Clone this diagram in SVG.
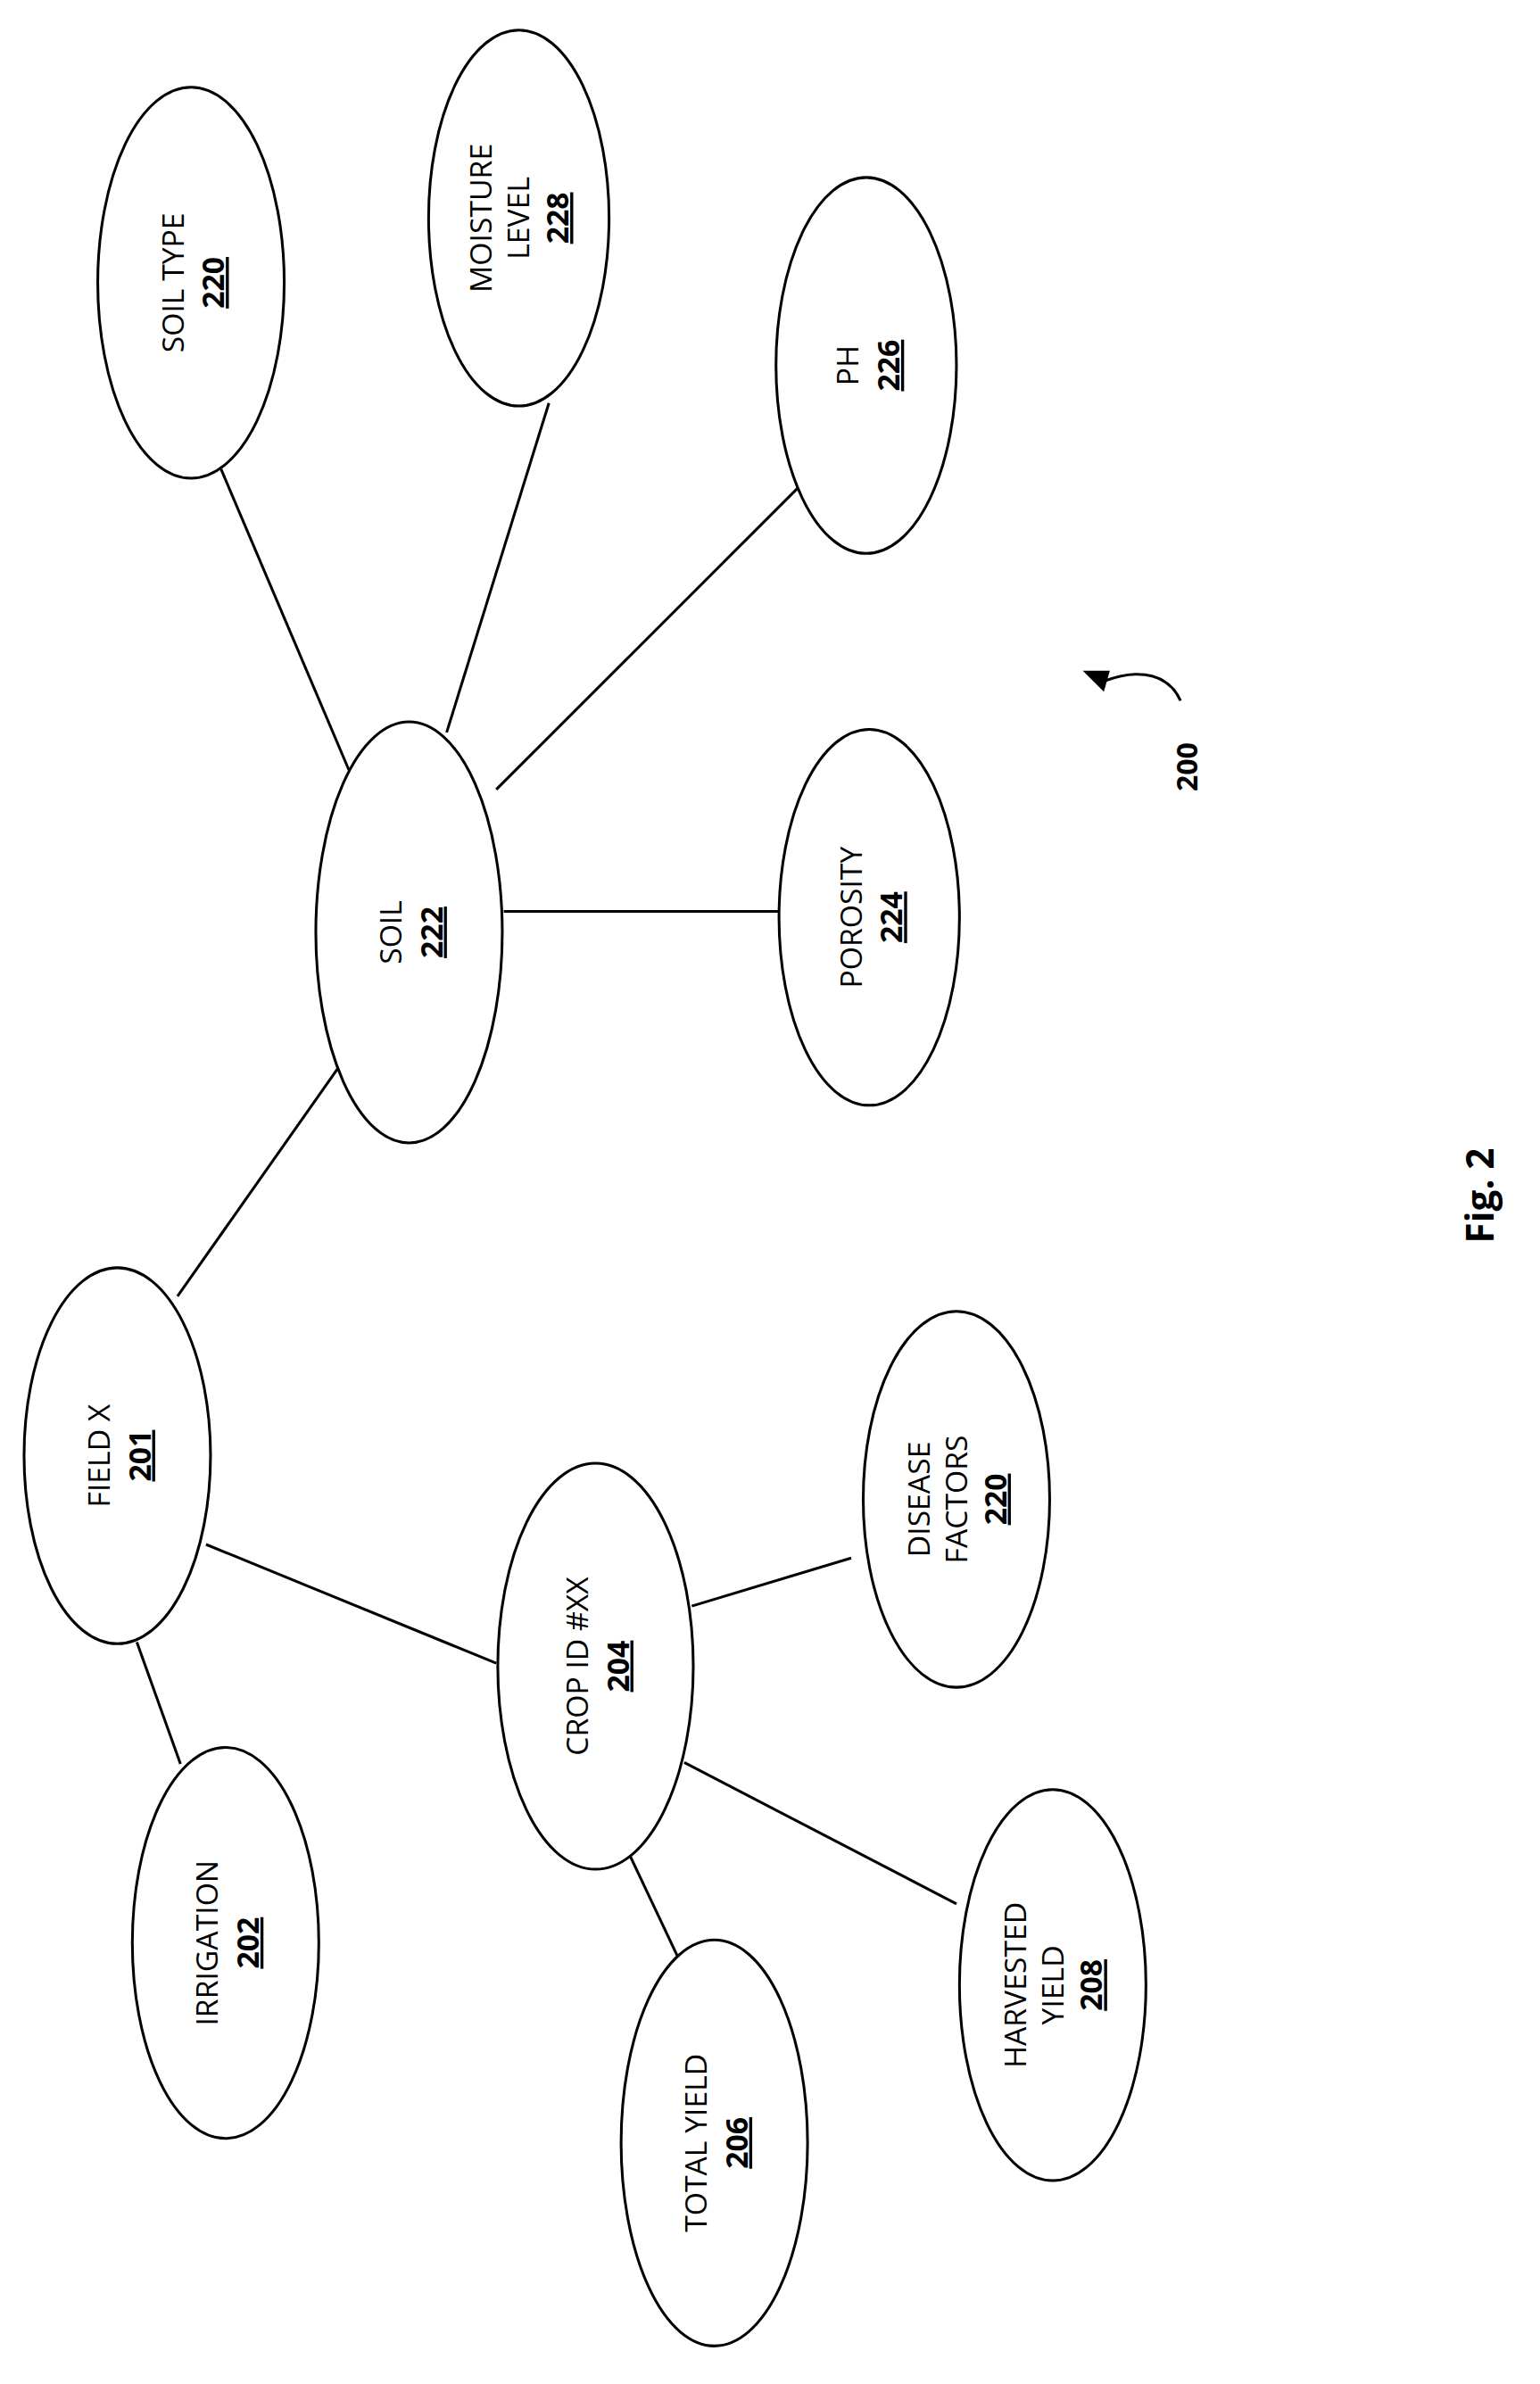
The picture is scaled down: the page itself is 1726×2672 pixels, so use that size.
<svg xmlns="http://www.w3.org/2000/svg" width="1726" height="2672" viewBox="0 0 1726 2672">
<style>
.n{fill:#fff;stroke:#000;stroke-width:1.8}
.c line{stroke:#000;stroke-width:1.8}
text{font-family:"Open Sans","Liberation Sans",sans-serif;font-size:20px;text-anchor:middle;fill:#000}
.b{font-weight:bold;text-decoration:underline}
</style>
<rect width="1726" height="2672" fill="#fff"/>
<g transform="scale(1.6855)">
<g class="c" id="connectors">
<line x1="147" y1="312" x2="232" y2="512"/>
<line x1="365" y1="268" x2="297" y2="487"/>
<line x1="535" y1="320" x2="330" y2="525"/>
<line x1="335" y1="606" x2="518" y2="606"/>
<line x1="232" y1="700" x2="118" y2="862"/>
<line x1="137" y1="1027" x2="330" y2="1106"/>
<line x1="460" y1="1068" x2="566" y2="1036"/>
<line x1="91" y1="1092" x2="120" y2="1173"/>
<line x1="455" y1="1172" x2="636" y2="1266"/>
<line x1="418" y1="1232" x2="452" y2="1304"/>
<path d="M785,466 C778,450 760,443 734,453" fill="none" stroke="#000" stroke-width="1.8"/>
<polygon points="720,446 738,446 734,460" fill="#000"/>
</g>
<g id="soiltype"><ellipse class="n" cx="127" cy="188" rx="62" ry="130"/><g transform="translate(127,188) rotate(-90)"><text y="-5">SOIL TYPE</text><text y="22" class="b">220</text></g></g>
<g id="moisture"><ellipse class="n" cx="345" cy="145" rx="60" ry="125"/><g transform="translate(345,145) rotate(-90)"><text y="-18">MOISTURE</text><text y="7">LEVEL</text><text y="33" class="b">228</text></g></g>
<g id="ph"><ellipse class="n" cx="576" cy="243" rx="60" ry="125"/><g transform="translate(576,243) rotate(-90)"><text y="-5">PH</text><text y="22" class="b">226</text></g></g>
<g id="soil"><ellipse class="n" cx="272" cy="620" rx="62" ry="140"/><g transform="translate(272,620) rotate(-90)"><text y="-5">SOIL</text><text y="22" class="b">222</text></g></g>
<g id="porosity"><ellipse class="n" cx="578" cy="610" rx="60" ry="125"/><g transform="translate(578,610) rotate(-90)"><text y="-5">POROSITY</text><text y="22" class="b">224</text></g></g>
<g id="field"><ellipse class="n" cx="78" cy="968" rx="62" ry="125"/><g transform="translate(78,968) rotate(-90)"><text y="-5">FIELD X</text><text y="22" class="b">201</text></g></g>
<g id="crop"><ellipse class="n" cx="396" cy="1108" rx="65" ry="135"/><g transform="translate(396,1108) rotate(-90)"><text y="-5">CROP ID #XX</text><text y="22" class="b">204</text></g></g>
<g id="disease"><ellipse class="n" cx="636" cy="997" rx="62" ry="125"/><g transform="translate(636,997) rotate(-90)"><text y="-18">DISEASE</text><text y="7">FACTORS</text><text y="33" class="b">220</text></g></g>
<g id="irrigation"><ellipse class="n" cx="150" cy="1292" rx="62" ry="130"/><g transform="translate(150,1292) rotate(-90)"><text y="-5">IRRIGATION</text><text y="22" class="b">202</text></g></g>
<g id="total"><ellipse class="n" cx="475" cy="1425" rx="62" ry="135"/><g transform="translate(475,1425) rotate(-90)"><text y="-5">TOTAL YIELD</text><text y="22" class="b">206</text></g></g>
<g id="harvested"><ellipse class="n" cx="700" cy="1320" rx="62" ry="130"/><g transform="translate(700,1320) rotate(-90)"><text y="-18">HARVESTED</text><text y="7">YIELD</text><text y="33" class="b">208</text></g></g>
<text transform="translate(796,510) rotate(-90)" style="font-weight:bold;font-size:19px">200</text>
<text transform="translate(993,795) rotate(-90)" style="font-weight:bold;font-size:25px">Fig. 2</text>
</g>
</svg>
